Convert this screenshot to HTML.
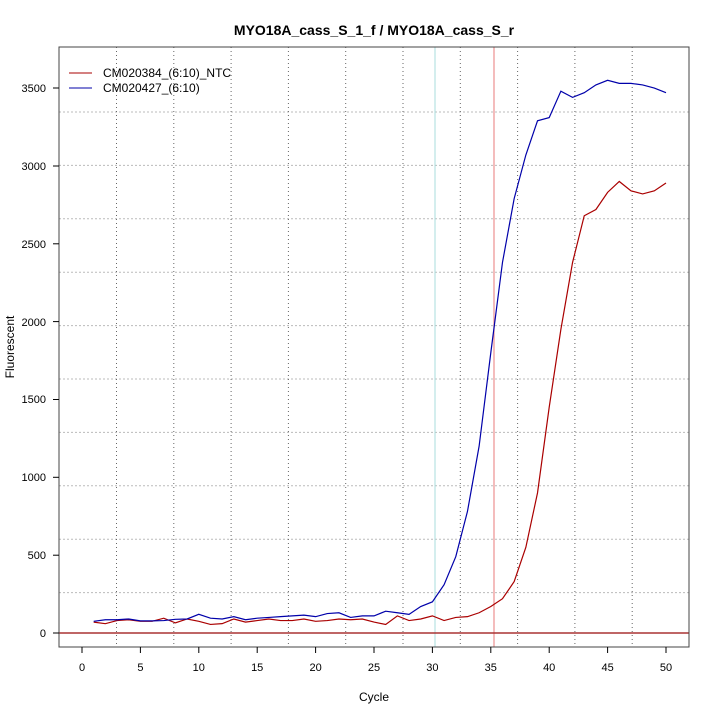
<!DOCTYPE html>
<html><head><style>body{margin:0;background:#fff}svg{display:block}</style></head><body>
<svg width="720" height="720" xmlns="http://www.w3.org/2000/svg" font-family="Liberation Sans, sans-serif">
<rect width="720" height="720" fill="#fff"/>
<text x="374" y="35" font-size="14" font-weight="bold" text-anchor="middle">MYO18A_cass_S_1_f / MYO18A_cass_S_r</text>
<g stroke="#bbb" stroke-dasharray="2,2" stroke-width="1">
<line x1="59" x2="689" y1="112" y2="112"/><line x1="59" x2="689" y1="165.4" y2="165.4"/>
<line x1="59" x2="689" y1="218.8" y2="218.8"/><line x1="59" x2="689" y1="272.2" y2="272.2"/>
<line x1="59" x2="689" y1="325.6" y2="325.6"/><line x1="59" x2="689" y1="379" y2="379"/>
<line x1="59" x2="689" y1="432.4" y2="432.4"/><line x1="59" x2="689" y1="485.8" y2="485.8"/>
<line x1="59" x2="689" y1="539.2" y2="539.2"/><line x1="59" x2="689" y1="592.6" y2="592.6"/>
</g>
<g stroke="#666" stroke-dasharray="1,3" stroke-width="1">
<line y1="47" y2="647" x1="116.5" x2="116.5"/><line y1="47" y2="647" x1="173.8" x2="173.8"/>
<line y1="47" y2="647" x1="231.1" x2="231.1"/><line y1="47" y2="647" x1="288.4" x2="288.4"/>
<line y1="47" y2="647" x1="345.7" x2="345.7"/><line y1="47" y2="647" x1="403" x2="403"/>
<line y1="47" y2="647" x1="460.3" x2="460.3"/><line y1="47" y2="647" x1="517.6" x2="517.6"/>
<line y1="47" y2="647" x1="574.9" x2="574.9"/><line y1="47" y2="647" x1="632.2" x2="632.2"/>
</g>
<line x1="435" x2="435" y1="47" y2="647" stroke="#a8dede" stroke-width="1"/>
<line x1="494" x2="494" y1="47" y2="647" stroke="#e99" stroke-width="1.3"/>
<line x1="59" x2="689" y1="633" y2="633" stroke="#a33" stroke-width="1.5"/>
<g transform="translate(82,633) scale(11.68,-0.1557)" fill="none" stroke-width="1.2">
<polyline vector-effect="non-scaling-stroke" stroke="#a00" points="1,70 2,60 3,80 4,85 5,75 6,75 7,95 8,65 9,90 10,75 11,55 12,60 13,90 14,70 15,80 16,90 17,80 18,80 19,90 20,75 21,80 22,90 23,85 24,90 25,70 26,55 27,110 28,80 29,90 30,110 31,80 32,100 33,105 34,130 35,170 36,220 37,330 38,550 39,900 40,1450 41,1950 42,2380 43,2680 44,2720 45,2830 46,2900 47,2840 48,2820 49,2840 50,2890"/>
<polyline vector-effect="non-scaling-stroke" stroke="#00a" points="1,75 2,85 3,85 4,90 5,78 6,78 7,80 8,88 9,90 10,120 11,95 12,90 13,105 14,85 15,95 16,100 17,105 18,110 19,115 20,105 21,125 22,130 23,100 24,110 25,110 26,140 27,130 28,120 29,170 30,200 31,310 32,490 33,780 34,1200 35,1800 36,2380 37,2790 38,3070 39,3290 40,3310 41,3480 42,3440 43,3470 44,3520 45,3550 46,3530 47,3530 48,3520 49,3500 50,3470"/>
</g>
<rect x="59" y="47" width="630" height="600" fill="none" stroke="#444" stroke-width="1"/>
<g stroke="#000" stroke-width="1">
<line x1="53" x2="59" y1="633" y2="633"/><line x1="53" x2="59" y1="555.2" y2="555.2"/>
<line x1="53" x2="59" y1="477.3" y2="477.3"/><line x1="53" x2="59" y1="399.5" y2="399.5"/>
<line x1="53" x2="59" y1="321.6" y2="321.6"/><line x1="53" x2="59" y1="243.8" y2="243.8"/>
<line x1="53" x2="59" y1="166" y2="166"/><line x1="53" x2="59" y1="88" y2="88"/>
<line y1="647" y2="653" x1="82" x2="82"/><line y1="647" y2="653" x1="140.4" x2="140.4"/>
<line y1="647" y2="653" x1="198.8" x2="198.8"/><line y1="647" y2="653" x1="257.2" x2="257.2"/>
<line y1="647" y2="653" x1="315.6" x2="315.6"/><line y1="647" y2="653" x1="374" x2="374"/>
<line y1="647" y2="653" x1="432.4" x2="432.4"/><line y1="647" y2="653" x1="490.8" x2="490.8"/>
<line y1="647" y2="653" x1="549.2" x2="549.2"/><line y1="647" y2="653" x1="607.6" x2="607.6"/>
<line y1="647" y2="653" x1="666" x2="666"/>
</g>
<g font-size="11" text-anchor="end">
<text x="46" y="637">0</text><text x="46" y="559">500</text><text x="46" y="481">1000</text>
<text x="46" y="403">1500</text><text x="46" y="326">2000</text><text x="46" y="248">2500</text>
<text x="46" y="170">3000</text><text x="46" y="92">3500</text>
</g>
<g font-size="11" text-anchor="middle">
<text x="82" y="671">0</text><text x="140.4" y="671">5</text><text x="198.8" y="671">10</text>
<text x="257.2" y="671">15</text><text x="315.6" y="671">20</text><text x="374" y="671">25</text>
<text x="432.4" y="671">30</text><text x="490.8" y="671">35</text><text x="549.2" y="671">40</text>
<text x="607.6" y="671">45</text><text x="666" y="671">50</text>
</g>
<text x="374" y="701" font-size="12" text-anchor="middle">Cycle</text>
<text transform="translate(14,347) rotate(-90)" font-size="12" text-anchor="middle">Fluorescent</text>
<line x1="69" x2="92" y1="73" y2="73" stroke="#a00"/>
<line x1="69" x2="92" y1="88" y2="88" stroke="#00a"/>
<text x="103" y="77" font-size="12">CM020384_(6:10)_NTC</text>
<text x="103" y="92" font-size="12">CM020427_(6:10)</text>
</svg>
</body></html>
